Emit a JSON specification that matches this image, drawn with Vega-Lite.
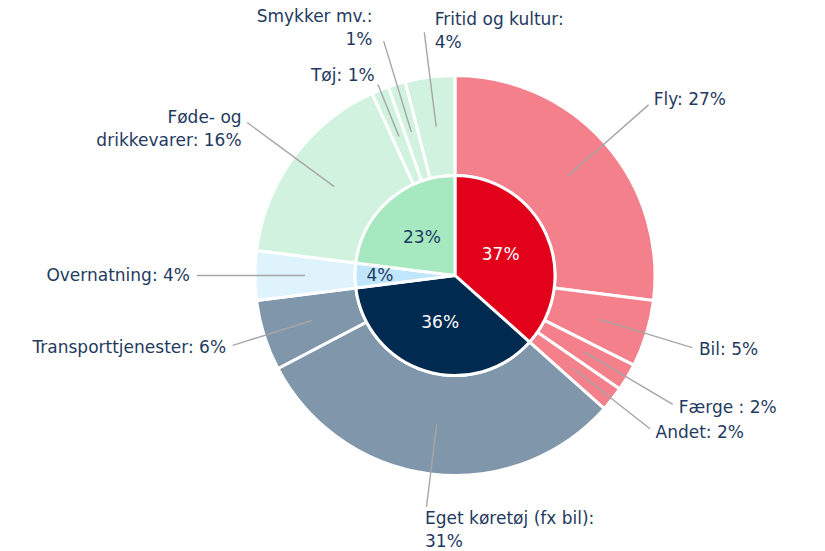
{
  "$schema": "https://vega.github.io/schema/vega-lite/v6.json",
  "width": 740,
  "height": 551,
  "autosize": {"type": "none"},
  "padding": {"left": 85, "top": 0, "right": 0, "bottom": 0},
  "background": "white",
  "config": {"view": {"stroke": null}, "font": "DejaVu Sans", "text": {"fontSize": 17, "lineBreak": "\n", "lineHeight": 23, "color": "#1f3a60"}},
  "datasets": {
    "ydre": [
      {"idx": 1, "gruppe": "Rejse til og fra", "kategori": "Fly", "andel": 27.0, "label": "Fly: 27%"},
      {"idx": 2, "gruppe": "Rejse til og fra", "kategori": "Bil", "andel": 5.4, "label": "Bil: 5%"},
      {"idx": 3, "gruppe": "Rejse til og fra", "kategori": "Færge", "andel": 2.2, "label": "Færge : 2%"},
      {"idx": 4, "gruppe": "Rejse til og fra", "kategori": "Andet", "andel": 2.0, "label": "Andet: 2%"},
      {"idx": 5, "gruppe": "Transport undervejs", "kategori": "Eget køretøj", "andel": 30.7, "label": "Eget køretøj (fx bil):\n31%"},
      {"idx": 6, "gruppe": "Transport undervejs", "kategori": "Transporttjenester", "andel": 5.7, "label": "Transporttjenester: 6%"},
      {"idx": 7, "gruppe": "Overnatning", "kategori": "Overnatning", "andel": 4.0, "label": "Overnatning: 4%"},
      {"idx": 8, "gruppe": "Forbrug", "kategori": "Føde- og drikkevarer", "andel": 16.2, "label": "Føde- og\ndrikkevarer: 16%"},
      {"idx": 9, "gruppe": "Forbrug", "kategori": "Tøj", "andel": 1.4, "label": "Tøj: 1%"},
      {"idx": 10, "gruppe": "Forbrug", "kategori": "Smykker mv.", "andel": 1.4, "label": "Smykker mv.:\n1%"},
      {"idx": 11, "gruppe": "Forbrug", "kategori": "Fritid og kultur", "andel": 4.0, "label": "Fritid og kultur:\n4%"}
    ],
    "indre": [
      {"idx": 1, "gruppe": "Rejse til og fra", "andel": 36.6, "label": "37%"},
      {"idx": 2, "gruppe": "Transport undervejs", "andel": 36.4, "label": "36%"},
      {"idx": 3, "gruppe": "Overnatning", "andel": 4.0, "label": "4%"},
      {"idx": 4, "gruppe": "Forbrug", "andel": 23.0, "label": "23%"}
    ]
  },
  "resolve": {"scale": {"color": "independent"}},
  "layer": [
    {
      "data": {"name": "ydre"},
      "mark": {"type": "arc", "outerRadius": 200, "innerRadius": 100, "stroke": "white", "strokeWidth": 3},
      "encoding": {
        "theta": {"field": "andel", "type": "quantitative", "stack": true},
        "order": {"field": "idx", "type": "quantitative"},
        "color": {
          "field": "gruppe", "type": "nominal", "legend": null,
          "scale": {"domain": ["Rejse til og fra", "Transport undervejs", "Overnatning", "Forbrug"],
                    "range": ["#f3808a", "#8096aa", "#dff3fc", "#d1f2df"]}
        }
      }
    },
    {
      "data": {"name": "indre"},
      "mark": {"type": "arc", "outerRadius": 100, "stroke": "white", "strokeWidth": 3},
      "encoding": {
        "theta": {"field": "andel", "type": "quantitative", "stack": true},
        "order": {"field": "idx", "type": "quantitative"},
        "color": {
          "field": "gruppe", "type": "nominal", "legend": null,
          "scale": {"domain": ["Rejse til og fra", "Transport undervejs", "Overnatning", "Forbrug"],
                    "range": ["#e3001a", "#002a4f", "#bfe6fa", "#a6e9c0"]}
        }
      }
    },
    {
      "data": {"name": "indre"},
      "mark": {"type": "text", "radius": 50, "align": "center", "baseline": "middle"},
      "encoding": {
        "theta": {"field": "andel", "type": "quantitative", "stack": true},
        "order": {"field": "idx", "type": "quantitative"},
        "detail": {"field": "gruppe", "type": "nominal"},
        "text": {"condition": {"test": "datum.gruppe !== 'Overnatning'", "field": "label"}, "value": ""},
        "color": {"condition": {"test": "datum.gruppe === 'Rejse til og fra' || datum.gruppe === 'Transport undervejs'", "value": "white"}, "value": "#1f3a60"}
      }
    },
    {
      "data": {"name": "indre"},
      "mark": {"type": "text", "radius": 75, "align": "center", "baseline": "middle"},
      "encoding": {
        "theta": {"field": "andel", "type": "quantitative", "stack": true},
        "order": {"field": "idx", "type": "quantitative"},
        "detail": {"field": "gruppe", "type": "nominal"},
        "text": {"condition": {"test": "datum.gruppe === 'Overnatning'", "field": "label"}, "value": ""}
      }
    },
    {
      "data": {"name": "ydre"},
      "mark": {"type": "arc", "innerRadius": 150, "outerRadius": 258, "padAngle": 3, "filled": false, "stroke": "#a6a6a6", "strokeWidth": 1.4},
      "encoding": {
        "theta": {"field": "andel", "type": "quantitative", "stack": true},
        "order": {"field": "idx", "type": "quantitative"},
        "detail": {"field": "kategori", "type": "nominal"},
        "strokeOpacity": {"condition": {"test": "indexof(['Fly','Overnatning','Føde- og drikkevarer'], datum.kategori) >= 0", "value": 1}, "value": 0}
      }
    },
    {
      "data": {"name": "ydre"},
      "mark": {"type": "arc", "innerRadius": 150, "outerRadius": 248, "padAngle": 3, "filled": false, "stroke": "#a6a6a6", "strokeWidth": 1.4},
      "encoding": {
        "theta": {"field": "andel", "type": "quantitative", "stack": true},
        "order": {"field": "idx", "type": "quantitative"},
        "detail": {"field": "kategori", "type": "nominal"},
        "strokeOpacity": {"condition": {"test": "indexof(['Bil','Andet'], datum.kategori) >= 0", "value": 1}, "value": 0}
      }
    },
    {
      "data": {"name": "ydre"},
      "mark": {"type": "arc", "innerRadius": 150, "outerRadius": 253, "padAngle": 3, "filled": false, "stroke": "#a6a6a6", "strokeWidth": 1.4},
      "encoding": {
        "theta": {"field": "andel", "type": "quantitative", "stack": true},
        "order": {"field": "idx", "type": "quantitative"},
        "detail": {"field": "kategori", "type": "nominal"},
        "strokeOpacity": {"condition": {"test": "datum.kategori === 'Færge'", "value": 1}, "value": 0}
      }
    },
    {
      "data": {"name": "ydre"},
      "mark": {"type": "arc", "innerRadius": 150, "outerRadius": 233, "padAngle": 3, "filled": false, "stroke": "#a6a6a6", "strokeWidth": 1.4},
      "encoding": {
        "theta": {"field": "andel", "type": "quantitative", "stack": true},
        "order": {"field": "idx", "type": "quantitative"},
        "detail": {"field": "kategori", "type": "nominal"},
        "strokeOpacity": {"condition": {"test": "datum.kategori === 'Eget køretøj' || datum.kategori === 'Transporttjenester'", "value": 1}, "value": 0}
      }
    },
    {
      "data": {"name": "ydre"},
      "mark": {"type": "arc", "innerRadius": 150, "outerRadius": 206, "padAngle": 3, "filled": false, "stroke": "#a6a6a6", "strokeWidth": 1.4},
      "encoding": {
        "theta": {"field": "andel", "type": "quantitative", "stack": true},
        "order": {"field": "idx", "type": "quantitative"},
        "detail": {"field": "kategori", "type": "nominal"},
        "strokeOpacity": {"condition": {"test": "datum.kategori === 'Tøj'", "value": 1}, "value": 0}
      }
    },
    {
      "data": {"name": "ydre"},
      "mark": {"type": "arc", "innerRadius": 150, "outerRadius": 245, "padAngle": 3, "filled": false, "stroke": "#a6a6a6", "strokeWidth": 1.4},
      "encoding": {
        "theta": {"field": "andel", "type": "quantitative", "stack": true},
        "order": {"field": "idx", "type": "quantitative"},
        "detail": {"field": "kategori", "type": "nominal"},
        "strokeOpacity": {"condition": {"test": "datum.kategori === 'Smykker mv.' || datum.kategori === 'Fritid og kultur'", "value": 1}, "value": 0}
      }
    },
    {
      "data": {"name": "ydre"},
      "mark": {"type": "text", "radius": 265, "align": "left", "baseline": "middle"},
      "encoding": {
        "theta": {"field": "andel", "type": "quantitative", "stack": true},
        "order": {"field": "idx", "type": "quantitative"},
        "detail": {"field": "kategori", "type": "nominal"},
        "text": {"condition": {"test": "datum.kategori === 'Fly'", "field": "label"}, "value": ""}
      }
    },
    {
      "data": {"name": "ydre"},
      "mark": {"type": "text", "radius": 265, "align": "right", "baseline": "middle"},
      "encoding": {
        "theta": {"field": "andel", "type": "quantitative", "stack": true},
        "order": {"field": "idx", "type": "quantitative"},
        "detail": {"field": "kategori", "type": "nominal"},
        "text": {"condition": {"test": "datum.kategori === 'Overnatning' || datum.kategori === 'Føde- og drikkevarer'", "field": "label"}, "value": ""}
      }
    },
    {
      "data": {"name": "ydre"},
      "mark": {"type": "text", "radius": 255, "align": "left", "baseline": "middle"},
      "encoding": {
        "theta": {"field": "andel", "type": "quantitative", "stack": true},
        "order": {"field": "idx", "type": "quantitative"},
        "detail": {"field": "kategori", "type": "nominal"},
        "text": {"condition": {"test": "datum.kategori === 'Bil' || datum.kategori === 'Andet'", "field": "label"}, "value": ""}
      }
    },
    {
      "data": {"name": "ydre"},
      "mark": {"type": "text", "radius": 260, "align": "left", "baseline": "middle"},
      "encoding": {
        "theta": {"field": "andel", "type": "quantitative", "stack": true},
        "order": {"field": "idx", "type": "quantitative"},
        "detail": {"field": "kategori", "type": "nominal"},
        "text": {"condition": {"test": "datum.kategori === 'Færge'", "field": "label"}, "value": ""}
      }
    },
    {
      "data": {"name": "ydre"},
      "mark": {"type": "text", "radius": 240, "align": "right", "baseline": "middle"},
      "encoding": {
        "theta": {"field": "andel", "type": "quantitative", "stack": true},
        "order": {"field": "idx", "type": "quantitative"},
        "detail": {"field": "kategori", "type": "nominal"},
        "text": {"condition": {"test": "datum.kategori === 'Transporttjenester'", "field": "label"}, "value": ""}
      }
    },
    {
      "data": {"name": "ydre"},
      "mark": {"type": "text", "radius": 245, "align": "left", "baseline": "middle"},
      "encoding": {
        "theta": {"field": "andel", "type": "quantitative", "stack": true},
        "order": {"field": "idx", "type": "quantitative"},
        "detail": {"field": "kategori", "type": "nominal"},
        "text": {"condition": {"test": "datum.kategori === 'Eget køretøj'", "field": "label"}, "value": ""}
      }
    },
    {
      "data": {"name": "ydre"},
      "mark": {"type": "text", "radius": 215, "align": "right", "baseline": "middle"},
      "encoding": {
        "theta": {"field": "andel", "type": "quantitative", "stack": true},
        "order": {"field": "idx", "type": "quantitative"},
        "detail": {"field": "kategori", "type": "nominal"},
        "text": {"condition": {"test": "datum.kategori === 'Tøj'", "field": "label"}, "value": ""}
      }
    },
    {
      "data": {"name": "ydre"},
      "mark": {"type": "text", "radius": 270, "align": "right", "baseline": "middle", "dx": -4},
      "encoding": {
        "theta": {"field": "andel", "type": "quantitative", "stack": true},
        "order": {"field": "idx", "type": "quantitative"},
        "detail": {"field": "kategori", "type": "nominal"},
        "text": {"condition": {"test": "datum.kategori === 'Smykker mv.'", "field": "label"}, "value": ""}
      }
    },
    {
      "data": {"name": "ydre"},
      "mark": {"type": "text", "radius": 258, "align": "left", "baseline": "middle", "dx": 12},
      "encoding": {
        "theta": {"field": "andel", "type": "quantitative", "stack": true},
        "order": {"field": "idx", "type": "quantitative"},
        "detail": {"field": "kategori", "type": "nominal"},
        "text": {"condition": {"test": "datum.kategori === 'Fritid og kultur'", "field": "label"}, "value": ""}
      }
    }
  ]
}
